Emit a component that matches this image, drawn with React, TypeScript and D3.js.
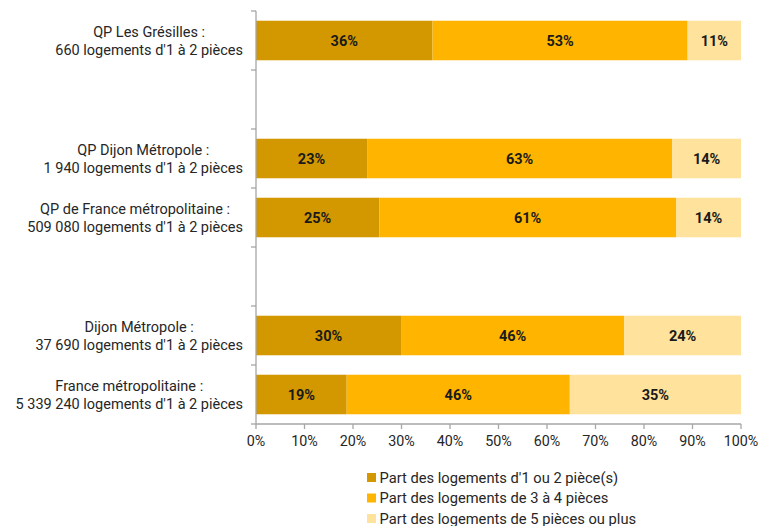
import React from "react";
import * as d3 from "d3";

const categories = [
  ["QP Les Grésilles :", "660 logements d'1 à 2 pièces"],
  null,
  ["QP Dijon Métropole :", "1 940 logements d'1 à 2 pièces"],
  ["QP de France métropolitaine :", "509 080 logements d'1 à 2 pièces"],
  null,
  ["Dijon Métropole :", "37 690 logements d'1 à 2 pièces"],
  ["France métropolitaine :", "5 339 240 logements d'1 à 2 pièces"],
];
const small = [36.4, null, 22.9, 25.4, null, 29.9, 18.7];
const medium = [52.6, null, 62.9, 61.2, null, 46.0, 46.0];
const large = [11.0, null, 14.2, 13.4, null, 24.1, 35.3];
const smallLabels = ["36%", null, "23%", "25%", null, "30%", "19%"];
const mediumLabels = ["53%", null, "63%", "61%", null, "46%", "46%"];
const largeLabels = ["11%", null, "14%", "14%", null, "24%", "35%"];
const seriesNames = [
  "Part des logements d'1 ou 2 pièce(s)",
  "Part des logements de 3 à 4 pièces",
  "Part des logements de 5 pièces ou plus",
];
const colors = ["#D39800", "#FFB500", "#FFE29B"];
const xTicks = [0, 10, 20, 30, 40, 50, 60, 70, 80, 90, 100];

const FONT = "Roboto, 'Noto Sans', sans-serif";
const LABEL_SIZE = 14.5;

function measure(text: string, size: number): number {
  const c = document.createElement("canvas").getContext("2d");
  if (!c) return text.length * size * 0.5;
  c.font = `${size}px Roboto`;
  return c.measureText(text).width;
}

export default function App() {
  const W = 760, H = 526;
  const left = 256, right = 741, top = 11, bottom = 424;
  const x = d3.scaleLinear().domain([0, 100]).range([left, right]);
  const idx = categories.map((_, i) => i);
  const y = d3.scaleBand<number>().domain(idx).range([top, bottom]).paddingInner(0.33).paddingOuter(0.165);
  const bounds = d3.range(categories.length + 1).map((i) => top + (i * (bottom - top)) / categories.length);
  const series = [small, medium, large];
  const labels = [smallLabels, mediumLabels, largeLabels];
  const axisColor = "#A6A6A6";
  const labelRight = 243;

  return (
    <svg width={W} height={H} style={{ position: "absolute", left: 0, top: 0, background: "#fff" }} fontFamily={FONT}>
      {idx.map((i) => {
        if (small[i] == null) return null;
        let acc = 0;
        return (
          <g key={i}>
            {series.map((s, k) => {
              const v = s[i] as number;
              const x0 = x(acc);
              acc += v;
              const x1 = x(acc);
              return (
                <g key={k}>
                  <rect x={x0} y={y(i)} width={x1 - x0} height={y.bandwidth()} fill={colors[k]} />
                  <text x={(x0 + x1) / 2} y={(y(i) as number) + y.bandwidth() / 2} dy="0.35em" textAnchor="middle" fontSize={14.5} fontWeight="bold" fill="#1a1a1a">
                    {labels[k][i]}
                  </text>
                </g>
              );
            })}
          </g>
        );
      })}
      {idx.map((i) => {
        const c = categories[i];
        if (!c) return null;
        const cy = (y(i) as number) + y.bandwidth() / 2;
        const w = Math.max(measure(c[0], LABEL_SIZE), measure(c[1], LABEL_SIZE));
        const cx = labelRight - w / 2;
        return (
          <text key={i} textAnchor="middle" fontSize={LABEL_SIZE} fill="#262626">
            <tspan x={cx} y={cy - 9} dy="0.35em">{c[0]}</tspan>
            <tspan x={cx} y={cy + 9} dy="0.35em">{c[1]}</tspan>
          </text>
        );
      })}
      <line x1={left} x2={left} y1={top} y2={bottom} stroke={axisColor} strokeWidth={1.3} />
      {bounds.map((b, i) => (
        <line key={i} x1={left - 5} x2={left} y1={b} y2={b} stroke={axisColor} strokeWidth={1.3} />
      ))}
      <line x1={left} x2={right} y1={bottom} y2={bottom} stroke={axisColor} strokeWidth={1.3} />
      {xTicks.map((t) => (
        <g key={t}>
          <line x1={x(t)} x2={x(t)} y1={bottom} y2={bottom + 5} stroke={axisColor} strokeWidth={1.3} />
          <text x={x(t)} y={bottom + 17} dy="0.35em" textAnchor="middle" fontSize={14.3} fill="#262626">{t}%</text>
        </g>
      ))}
      {seriesNames.map((n, k) => (
        <g key={k} transform={`translate(367, ${477.5 + k * 20.5})`}>
          <rect x={0} y={-4.5} width={9} height={9} fill={colors[k]} />
          <text x={12.5} y={0} dy="0.35em" fontSize={14.7} fill="#262626">{n}</text>
        </g>
      ))}
    </svg>
  );
}
